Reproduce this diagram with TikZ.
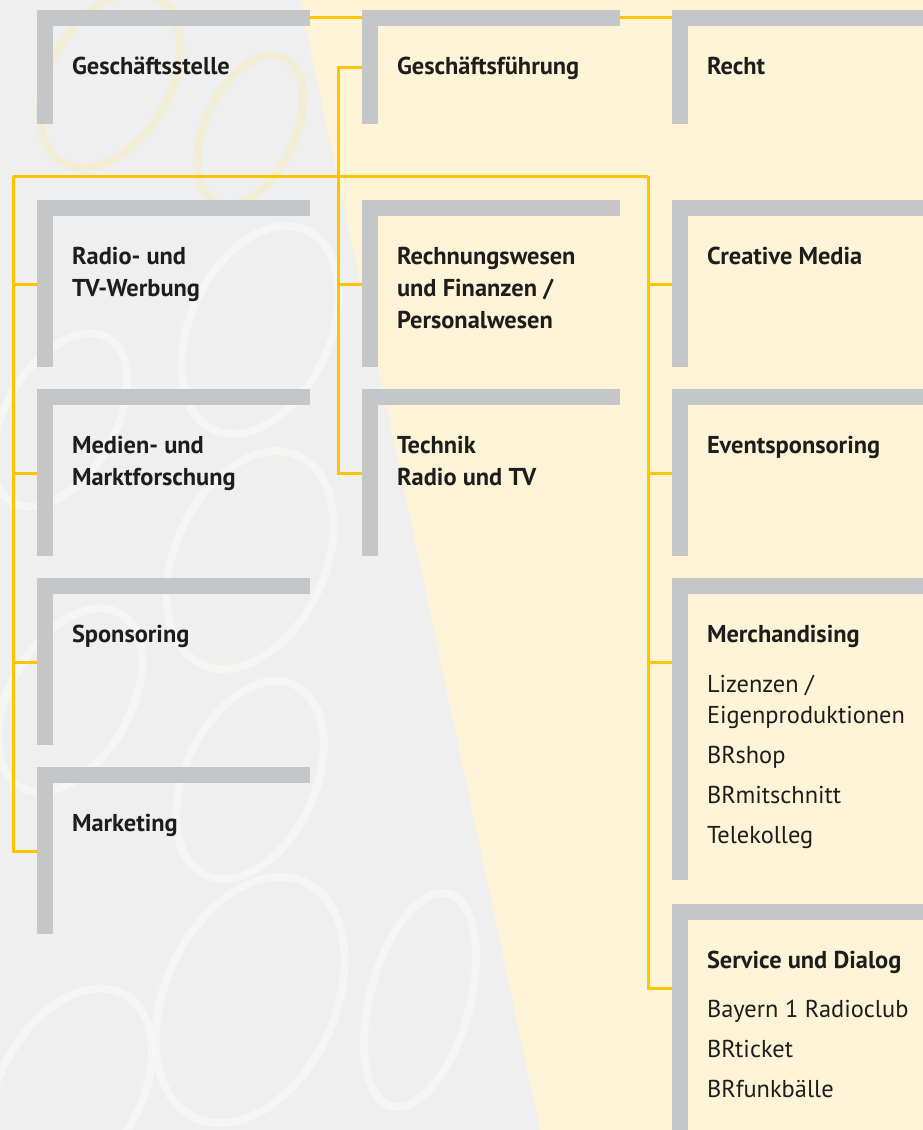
\documentclass[tikz,border=0pt]{standalone}
\usepackage{fontspec}
\setmainfont{PT Sans}
\definecolor{cream}{RGB}{253,244,216}
\definecolor{greybg}{RGB}{239,239,239}
\definecolor{swirlw}{RGB}{250,250,248}
\definecolor{swirly}{RGB}{250,236,190}
\definecolor{bargrey}{RGB}{197,198,200}
\definecolor{linky}{RGB}{255,196,0}
\definecolor{ink}{RGB}{29,29,27}
\begin{document}
\begin{tikzpicture}[x=1pt,y=-1pt,
  bracket/.style={anchor=north west, inner sep=0pt, outer sep=0pt},
  head/.style={anchor=base west, inner sep=0pt, outer sep=0pt, font=\bfseries, text=ink, align=left},
  item/.style={anchor=base west, inner sep=0pt, outer sep=0pt, text=ink, align=left},
  link/.style={draw=linky, line width=3pt},
  swirl/.style={draw=swirlw, line width=8pt, opacity=0.55},
  swirlg/.style={draw=swirly, line width=8pt, opacity=0.5}]
\fontsize{24.4}{32}\selectfont
\useasboundingbox (0,0) rectangle (923,1130);

% background: cream page with a patterned grey field on the left
\fill[cream] (0,0) rectangle (923,1130);
\fill[greybg] (0,0) -- (300,0) -- (540,1130) -- (0,1130) -- cycle;
\begin{scope}
  \clip (0,0) -- (300,0) -- (540,1130) -- (0,1130) -- cycle;
  \draw[swirlg] (110,80) ellipse [x radius=60, y radius=95, rotate=-30];
  \draw[swirlg] (250,130) ellipse [x radius=45, y radius=80, rotate=-25];
  \draw[swirl] (260,330) ellipse [x radius=70, y radius=110, rotate=-25];
  \draw[swirl] (60,420) ellipse [x radius=55, y radius=95, rotate=-30];
  \draw[swirl] (250,560) ellipse [x radius=75, y radius=115, rotate=-25];
  \draw[swirl] (70,700) ellipse [x radius=60, y radius=100, rotate=-30];
  \draw[swirl] (250,780) ellipse [x radius=65, y radius=105, rotate=-25];
  \draw[swirl] (250,1000) ellipse [x radius=85, y radius=130, rotate=-25];
  \draw[swirl] (70,1090) ellipse [x radius=70, y radius=110, rotate=-30];
  \draw[swirl] (420,1000) ellipse [x radius=50, y radius=110, rotate=-15];
\end{scope}

% organisational units (grey corner brackets)
\node[bracket, minimum width=273pt, minimum height=114pt] (gst)  at (37,10)  {};
\node[bracket, minimum width=258pt, minimum height=114pt] (gf)   at (362,10) {};
\node[bracket, minimum width=251pt, minimum height=114pt] (re)   at (672,10) {};
\node[bracket, minimum width=273pt, minimum height=167pt] (rtv)  at (37,200) {};
\node[bracket, minimum width=273pt, minimum height=167pt] (mmf)  at (37,389) {};
\node[bracket, minimum width=273pt, minimum height=167pt] (spo)  at (37,578) {};
\node[bracket, minimum width=273pt, minimum height=167pt] (mkt)  at (37,767) {};
\node[bracket, minimum width=258pt, minimum height=167pt] (rfp)  at (362,200) {};
\node[bracket, minimum width=258pt, minimum height=167pt] (tec)  at (362,389) {};
\node[bracket, minimum width=251pt, minimum height=167pt] (cm)   at (672,200) {};
\node[bracket, minimum width=251pt, minimum height=167pt] (evs)  at (672,389) {};
\node[bracket, minimum width=251pt, minimum height=302pt] (mer)  at (672,578) {};
\node[bracket, minimum width=251pt, minimum height=226pt] (svc)  at (672,904) {};

\foreach \n in {gst,gf,re,rtv,mmf,spo,mkt,rfp,tec,cm,evs,mer,svc}{
  \fill[bargrey] (\n.north west) rectangle ([yshift=-16pt]\n.north east);
  \fill[bargrey] (\n.north west) rectangle ([xshift=16pt]\n.south west);
}

% connectors
\coordinate (gfbus) at (338,67);
\coordinate (busL) at (13,176);
\coordinate (busR) at (648,176);
\draw[link] ([yshift=-7.5pt]gst.north east) -- ([yshift=-7.5pt]gf.north west);
\draw[link] ([yshift=-7.5pt]gf.north east) -- ([yshift=-7.5pt]re.north west);
\draw[link] ([yshift=-57pt]gf.north west) -- (gfbus) |- ([yshift=-84pt]tec.north west);
\draw[link] ([yshift=-84pt]rfp.north west) -| (gfbus);
\draw[link] (busL) -- (busR);
\draw[link] (busL) |- ([yshift=-84pt]mkt.north west);
\draw[link] (busR) |- ([yshift=-84pt]svc.north west);
\foreach \n in {rtv,mmf,spo}{ \draw[link] ([yshift=-84pt]\n.north west) -| (busL); }
\foreach \n in {cm,evs,mer}{ \draw[link] ([yshift=-84pt]\n.north west) -| (busR); }

% labels (base anchor of a multi-line node sits on its last line)
\node[head] (gstT) at ([shift={(35pt,-64pt)}]gst.north west) {Geschäftsstelle};
\node[head] (gfT)  at ([shift={(35pt,-64pt)}]gf.north west)  {Geschäftsführung};
\node[head] (reT)  at ([shift={(35pt,-64pt)}]re.north west)  {Recht};
\node[head] (rtvT) at ([shift={(35pt,-96pt)}]rtv.north west) {Radio- und\\TV-Werbung};
\node[head] (mmfT) at ([shift={(35pt,-96pt)}]mmf.north west) {Medien- und\\Marktforschung};
\node[head] (spoT) at ([shift={(35pt,-64pt)}]spo.north west) {Sponsoring};
\node[head] (mktT) at ([shift={(35pt,-64pt)}]mkt.north west) {Marketing};
\node[head] (rfpT) at ([shift={(35pt,-128pt)}]rfp.north west) {Rechnungswesen\\und Finanzen /\\Personalwesen};
\node[head] (tecT) at ([shift={(35pt,-96pt)}]tec.north west) {Technik\\Radio und TV};
\node[head] (cmT)  at ([shift={(35pt,-64pt)}]cm.north west)  {Creative Media};
\node[head] (evsT) at ([shift={(35pt,-64pt)}]evs.north west) {Eventsponsoring};
\node[head] (merT) at ([shift={(35pt,-64pt)}]mer.north west) {Merchandising};
\node[head] (svcT) at ([shift={(35pt,-64pt)}]svc.north west) {Service und Dialog};

\node[item] (mer1) at ([shift={(35pt,-145pt)}]mer.north west) {Lizenzen /\\[-1pt]Eigenproduktionen};
\node[item] (mer2) at ([shift={(35pt,-185pt)}]mer.north west) {BRshop};
\node[item] (mer3) at ([shift={(35pt,-225pt)}]mer.north west) {BRmitschnitt};
\node[item] (mer4) at ([shift={(35pt,-265pt)}]mer.north west) {Telekolleg};
\node[item] (svc1) at ([shift={(35pt,-113pt)}]svc.north west) {Bayern 1 Radioclub};
\node[item] (svc2) at ([shift={(35pt,-153pt)}]svc.north west) {BRticket};
\node[item] (svc3) at ([shift={(35pt,-193pt)}]svc.north west) {BRfunkbälle};
\end{tikzpicture}
\end{document}
